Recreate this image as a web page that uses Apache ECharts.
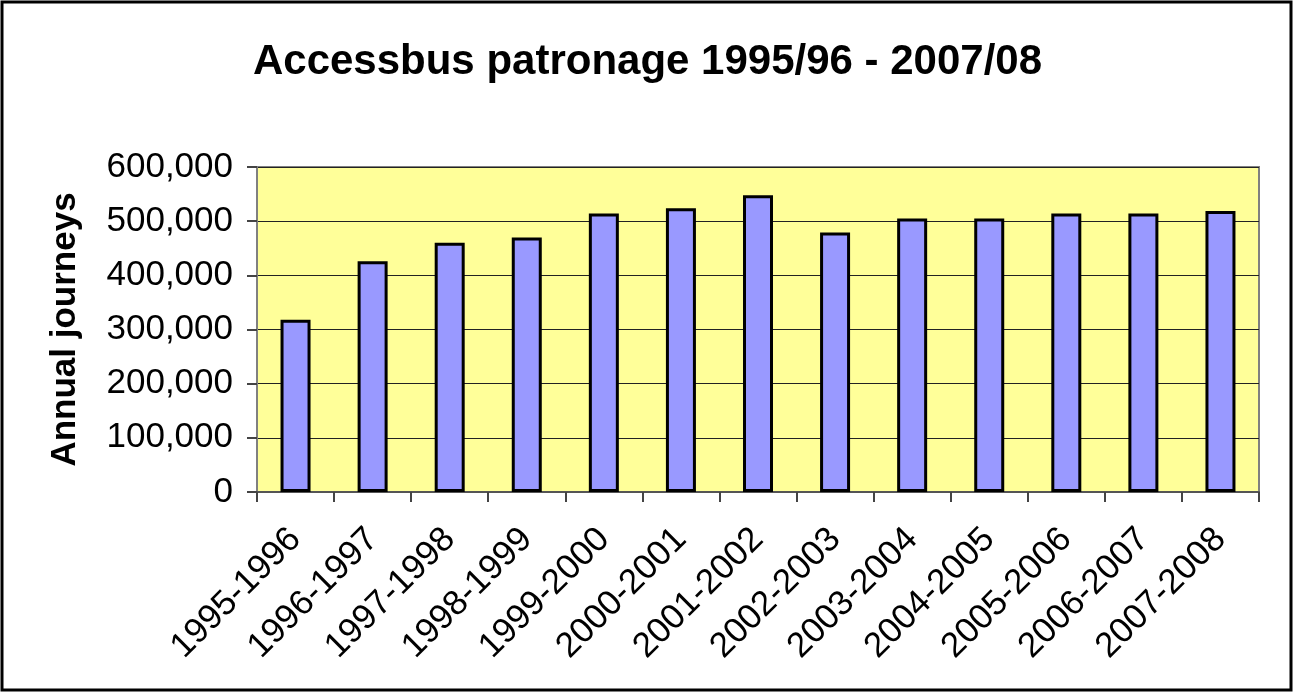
<!DOCTYPE html>
<html>
<head>
    <meta charset="utf-8"/>
    <title>Accessbus patronage</title>
    <script src="https://cdn.jsdelivr.net/npm/echarts@6/dist/echarts.min.js"></script>
    <style>
        html, body { margin: 0; padding: 0; background: #fff; }
        #main { width: 1295px; height: 693px; }
    </style>
</head>
<body>
<div id="main"></div>
<script type="text/javascript">
    // data
    var years = ['1995-1996', '1996-1997', '1997-1998', '1998-1999', '1999-2000', '2000-2001', '2001-2002',
        '2002-2003', '2003-2004', '2004-2005', '2005-2006', '2006-2007', '2007-2008']
    var journeys = [318000, 426000, 460000, 470000, 514000, 524000, 548000,
        479000, 505000, 505000, 514000, 514000, 519000]
    var yTicks = [0, 100000, 200000, 300000, 400000, 500000, 600000]

    var font = 'Liberation Sans, Arial, sans-serif'
    var chart = echarts.init(document.getElementById('main'))
    chart.setOption({
        animation: false,
        title: {
            text: 'Accessbus patronage 1995/96 - 2007/08',
            left: 'center',
            top: 36,
            textStyle: { fontFamily: font, fontSize: 42, fontWeight: 'bold', color: '#000' }
        },
        graphic: [{
            type: 'rect',
            shape: { x: 2, y: 2, width: 1289, height: 688 },
            style: { fill: 'none', stroke: '#000', lineWidth: 3 },
            silent: true
        }],
        grid: {
            left: 257, right: 36, top: 167, bottom: 201,
            show: true, backgroundColor: '#FFFF99', borderColor: '#808080', borderWidth: 2
        },
        xAxis: {
            type: 'category',
            data: years,
            axisLine: { lineStyle: { color: '#555', width: 2 } },
            axisTick: { show: true, alignWithLabel: false, length: 10, lineStyle: { color: '#444', width: 2 } },
            axisLabel: { rotate: 45, margin: 42, fontFamily: font, fontSize: 35, color: '#000' }
        },
        yAxis: {
            type: 'value',
            min: yTicks[0],
            max: yTicks[yTicks.length - 1],
            interval: yTicks[1] - yTicks[0],
            name: 'Annual journeys',
            nameLocation: 'middle',
            nameGap: 174,
            nameTextStyle: { fontFamily: font, fontSize: 35, fontWeight: 'bold', color: '#000' },
            axisLine: { show: true, lineStyle: { color: '#808080', width: 2 } },
            axisTick: { show: true, length: 10, lineStyle: { color: '#444', width: 2 } },
            axisLabel: {
                margin: 24, fontFamily: font, fontSize: 35, color: '#000',
                formatter: function (v) { return v.toLocaleString('en-US') }
            },
            splitLine: { lineStyle: { color: '#222', width: 1 } }
        },
        series: [{
            type: 'bar',
            data: journeys,
            barWidth: 30,
            itemStyle: { color: '#9999FF', borderColor: '#000', borderWidth: 3 }
        }]
    })
</script>
</body>
</html>
